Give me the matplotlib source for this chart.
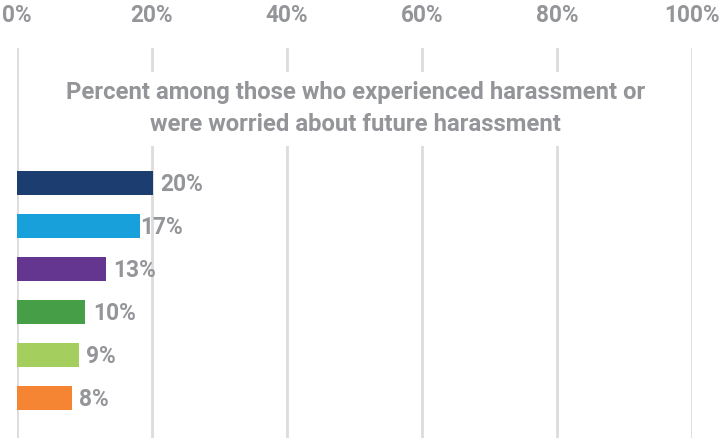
import matplotlib
matplotlib.use("Agg")
import matplotlib.pyplot as plt

# Data
values = [20.1, 18.2, 13.2, 10.1, 9.2, 8.1]          # bar lengths (%)
value_labels = ["20%", "17%", "13%", "10%", "9%", "8%"]
colors = ["#1B3D6F", "#18A0DB", "#64368F", "#469E46", "#A4CE5E", "#F58433"]
tick_values = [0, 20, 40, 60, 80, 100]
tick_labels = ["0%", "20%", "40%", "60%", "80%", "100%"]
title_text = "Percent among those who experienced harassment or\nwere worried about future harassment"

GRAY = "#939598"
GRID = "#DCDCDC"
plt.rcParams['font.family'] = ['Roboto', 'DejaVu Sans']

fig = plt.figure(figsize=(7.22, 4.38), dpi=100)
ax = fig.add_axes([17/722, 0, 675/722, 1 - 48/438])

ypos = list(range(len(values)))
ax.barh(ypos, values, height=0.56, color=colors, zorder=3)

ax.set_xlim(0, 100)
ax.set_ylim(5.93, -3.14)

ax.xaxis.tick_top()
ax.set_xticks(tick_values)
ax.set_xticklabels(tick_labels, fontsize=16.3, fontweight='bold', color=GRAY)
ax.tick_params(axis='x', length=0, pad=15)
ax.set_yticks([])
ax.grid(axis='x', color=GRID, linewidth=2, zorder=0)
for s in ax.spines.values():
    s.set_visible(False)

for y, lab in zip(ypos, value_labels):
    v = float(lab.rstrip('%'))
    ax.annotate(lab, xy=(v, y), xytext=(6.0, -5.8), textcoords='offset points',
                ha='left', va='baseline', fontsize=16.4, fontweight='bold', color=GRAY,
                zorder=4)

ax.text(50.1, -1.73, title_text, ha='center', va='center', fontsize=17.2,
        fontweight='bold', color=GRAY, linespacing=1.48, zorder=5,
        bbox=dict(facecolor='white', edgecolor='none', pad=7))

fig.savefig("out.png", dpi=100)
